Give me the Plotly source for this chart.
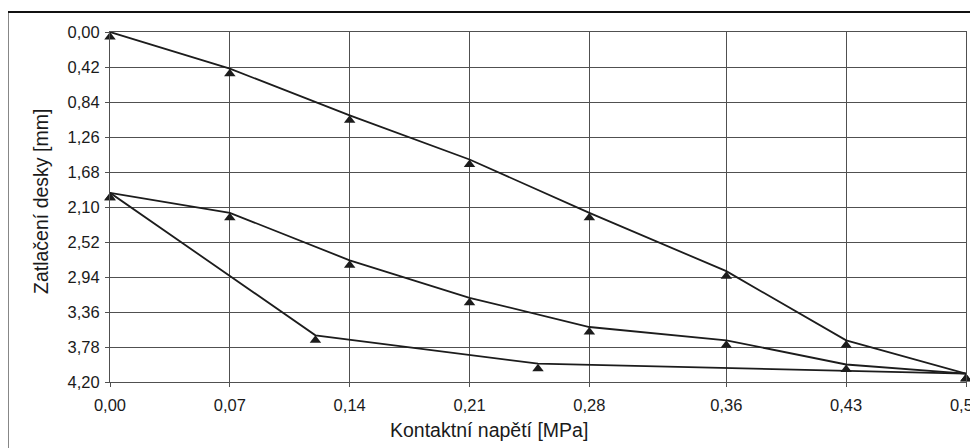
import plotly.graph_objects as go

# Data
x_load = [0.00, 0.07, 0.14, 0.21, 0.28, 0.36, 0.43, 0.50]
y_first_loading = [0.00, 0.44, 1.00, 1.53, 2.17, 2.87, 3.70, 4.10]
x_unload = [0.50, 0.25, 0.12, 0.00]
y_unloading = [4.10, 3.98, 3.64, 1.93]
y_reloading = [1.93, 2.17, 2.74, 3.19, 3.54, 3.70, 3.99, 4.10]

x_ticks = [0.00, 0.07, 0.14, 0.21, 0.28, 0.36, 0.43, 0.50]
y_ticks = [0.00, 0.42, 0.84, 1.26, 1.68, 2.10, 2.52, 2.94, 3.36, 3.78, 4.20]

x_title = "Kontaktní napětí [MPa]"
y_title = "Zatlačení desky [mm]"

LINE = "#1c1c1c"
GRID = "#505050"
TXT = "#1a1a1a"
FONT = "Liberation Sans, Arial, sans-serif"

W, H = 978, 448
OFF = 8  # page body margin
# desired plot area in window pixels
PX0, PX1, PY0, PY1 = 110, 966, 32, 382
L, T = PX0 - OFF, PY0 - OFF
R, B = W + OFF - PX1, H + OFF - PY1
pw, ph = PX1 - PX0, PY1 - PY0

def px_x(px):
    return (px - PX0) / pw

def px_y(py):
    return (PY1 - py) / ph

fig = go.Figure()
series = [(x_load, y_first_loading), (x_unload, y_unloading), (x_load, y_reloading)]
for xs, ys in series:
    fig.add_trace(go.Scatter(x=xs, y=ys, mode="lines",
                             line=dict(color=LINE, width=1.8),
                             cliponaxis=False,
                             showlegend=False, hoverinfo="skip"))
for xs, ys in series:
    fig.add_trace(go.Scatter(x=xs, y=ys, mode="markers", yaxis="y2",
                             marker=dict(symbol="triangle-up", size=10, color=LINE),
                             cliponaxis=False, showlegend=False, hoverinfo="skip"))

shift = 0.06
fig.update_layout(
    width=W, height=H,
    margin=dict(l=L, r=R, t=T, b=B, autoexpand=False),
    paper_bgcolor="white", plot_bgcolor="white",
    separators=", ",
    font=dict(family=FONT, size=16, color=TXT),
    xaxis=dict(range=[0, 0.5], tickvals=x_ticks, tickformat=".2f",
               automargin=False, ticklabeloverflow="allow",
               showgrid=True, gridcolor=GRID, gridwidth=1.2,
               showline=True, linecolor=GRID, linewidth=1.2, mirror=True,
               ticks="outside", ticklen=4, tickcolor=GRID,
               ticklabelstandoff=4, zeroline=False,
               tickfont=dict(size=16.5, color=TXT)),
    yaxis=dict(range=[4.2, 0], tickvals=y_ticks, tickformat=".2f",
               automargin=False,
               showgrid=True, gridcolor=GRID, gridwidth=1.2,
               showline=True, linecolor=GRID, linewidth=1.2, mirror=True,
               ticks="outside", ticklen=4, tickcolor=GRID,
               ticklabelstandoff=2, zeroline=False,
               tickfont=dict(size=16.5, color=TXT)),
    yaxis2=dict(range=[4.2 - shift, 0 - shift], overlaying="y", visible=False,
                automargin=False, showgrid=False, zeroline=False),
    annotations=[
        dict(text=x_title, xref="paper", yref="paper",
             x=px_x(489), y=px_y(430), showarrow=False,
             xanchor="center", yanchor="middle",
             font=dict(size=19.5, color=TXT, family=FONT)),
        dict(text=y_title, xref="paper", yref="paper",
             x=px_x(41), y=px_y(202), showarrow=False, textangle=-90,
             xanchor="center", yanchor="middle",
             font=dict(size=19.5, color=TXT, family=FONT)),
    ],
    shapes=[
        dict(type="rect", xref="paper", yref="paper",
             x0=px_x(7.5), x1=px_x(1010), y0=px_y(480), y1=px_y(12),
             line=dict(color="#111111", width=2), fillcolor="rgba(0,0,0,0)",
             layer="above"),
    ],
)

fig.write_html("out.html")
